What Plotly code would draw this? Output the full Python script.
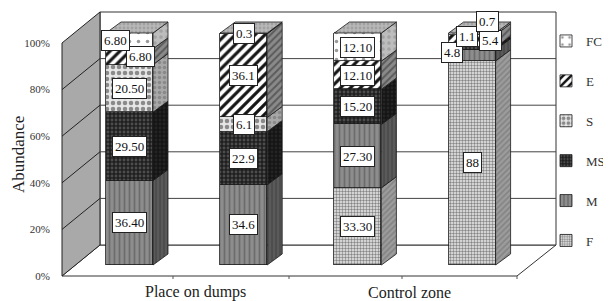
import plotly.graph_objects as go

# ---------------- data ----------------
categories = ["Place on dumps", "Control zone"]
bar_category = [0, 0, 1, 1]
series_names = ["F", "M", "MS", "S", "E", "FC"]
F = [0, 0, 33.30, 88]
M = [36.40, 34.6, 27.30, 4.8]
MS = [29.50, 22.9, 15.20, 1.1]
S = [20.50, 6.1, 0, 0]
E = [6.80, 36.1, 12.10, 5.4]
FC = [6.80, 0.3, 12.10, 0.7]
label_F = ["", "", "33.30", "88"]
label_M = ["36.40", "34.6", "27.30", "4.8"]
label_MS = ["29.50", "22.9", "15.20", "1.1"]
label_S = ["20.50", "6.1", "", ""]
label_E = ["6.80", "36.1", "12.10", "5.4"]
label_FC = ["6.80", "0.3", "12.10", "0.7"]
y_tickvals = [0, 20, 40, 60, 80, 100]
y_ticktext = ["0%", "20%", "40%", "60%", "80%", "100%"]
y_title = "Abundance"

values = [F, M, MS, S, E, FC]
labels = [label_F, label_M, label_MS, label_S, label_E, label_FC]
bar_x = list(range(len(F)))

# ---------------- styles ----------------
SERIF = "Liberation Serif"
front_style = {
    "F":  dict(bg="#eeeeee", fg="#858585", shape=".", size=3, sol=0.5),
    "M":  dict(bg="#8d8d8d", fg="#6c6c6c", shape="|", size=5, sol=0.35),
    "MS": dict(bg="#1f1f1f", fg="#4d4d4d", shape=".", size=4, sol=0.4),
    "S":  dict(bg="#e6e6e6", fg="#8a8a8a", shape=".", size=6, sol=0.45),
    "E":  dict(bg="#ffffff", fg="#151515", shape="/", size=7, sol=0.45),
    "FC": dict(bg="#ffffff", fg="#9a9a9a", shape=".", size=9, sol=0.12),
}
side_style = {
    "F":  dict(bg="#9c9c9c", fg="#6a6a6a", shape="/", size=4, sol=0.4),
    "M":  dict(bg="#5a5a5a", fg="#3a3a3a", shape="|", size=4, sol=0.4),
    "MS": dict(bg="#141414", fg="#333333", shape=".", size=4, sol=0.4),
    "S":  dict(bg="#a8a8a8", fg="#6a6a6a", shape=".", size=5, sol=0.4),
    "E":  dict(bg="#8a8a8a", fg="#2a2a2a", shape="/", size=5, sol=0.4),
    "FC": dict(bg="#bdbdbd", fg="#8a8a8a", shape=".", size=6, sol=0.3),
}
# label pixel shifts (bar index, series) -> (xshift, yshift)
label_shift = {
    (0, "E"): (11, 0), (0, "FC"): (-14, 0),
    (3, "M"): (-20, 3), (3, "MS"): (-5, 12), (3, "E"): (18, 0), (3, "FC"): (15, 12),
}
cat_label_xshift = [9, -6]

# ---------------- geometry (screen pixels of the reference) ----------------
W, H = 611, 301
OFF = 8  # default page body margin
L, R, T, B = 62, 556, 10, 280
bar0_px, bar_step_px = 129.5, 114.2
bar_zero_px, bar_ppu = 265.0, 2.32
tick_zero_px, tick_ppu = 276.0, 2.33
wall_zero_px = 245.0
depth_px_x, depth_px_y = 15.0, 11.0
bar_w = 47.0 / bar_step_px

x_range = [(L - bar0_px) / bar_step_px, (R - bar0_px) / bar_step_px]
y_range = [-(B - bar_zero_px) / bar_ppu, (bar_zero_px - T) / bar_ppu]
y2_range = [-(B - tick_zero_px) / tick_ppu, (tick_zero_px - T) / tick_ppu]
dx = depth_px_x / bar_step_px
dy = depth_px_y / bar_ppu


def xp(px):
    return (px - L) / (R - L)


def yp(py):
    return (B - py) / (B - T)


def path(points):
    return "M " + " L ".join(f"{xp(a):.5f},{yp(b):.5f}" for a, b in points) + " Z"


fig = go.Figure()

# side and top faces (computed from data)
for i in bar_x:
    xr = i + bar_w / 2
    xl = i - bar_w / 2
    cum = 0.0
    for name, vals in zip(series_names, values):
        v = vals[i]
        if v <= 0:
            continue
        y0, y1 = cum, cum + v
        cum = y1
        st = side_style[name]
        fig.add_trace(go.Scatter(
            x=[xr, xr + dx, xr + dx, xr, xr],
            y=[y0, y0 + dy, y1 + dy, y1, y0],
            mode="lines", fill="toself", fillcolor=st["bg"],
            fillpattern=dict(shape=st["shape"], fgcolor=st["fg"], bgcolor=st["bg"],
                             size=st["size"], solidity=st["sol"]),
            line=dict(color="#1a1a1a", width=0.8),
            showlegend=False, hoverinfo="skip"))
    fig.add_trace(go.Scatter(
        x=[xl, xl + dx, xr + dx, xr, xl],
        y=[cum, cum + dy, cum + dy, cum, cum],
        mode="lines", fill="toself", fillcolor="#b4b4b4",
        fillpattern=dict(shape=".", fgcolor="#8a8a8a", bgcolor="#b8b8b8", size=4, solidity=0.4),
        line=dict(color="#1a1a1a", width=0.8),
        showlegend=False, hoverinfo="skip"))

# front faces
n_series = len(series_names)
for k, (name, vals) in enumerate(zip(series_names, values)):
    st = front_style[name]
    fig.add_trace(go.Bar(
        x=bar_x, y=vals, name=name, width=bar_w, legendgroup=name,
        legendrank=100 + (n_series - k),
        marker=dict(color=st["bg"], line=dict(color="#1a1a1a", width=0.8),
                    pattern=dict(shape=st["shape"], fgcolor=st["fg"], bgcolor=st["bg"],
                                 size=st["size"], solidity=st["sol"], fillmode="replace")),
        hoverinfo="skip"))

# invisible trace to activate yaxis2
fig.add_trace(go.Scatter(x=[0], y=[0], yaxis="y2", mode="markers",
                         marker=dict(opacity=0), showlegend=False, hoverinfo="skip"))

# data labels
annotations = []
for i in bar_x:
    cum = 0.0
    for name, vals, labs in zip(series_names, values, labels):
        v = vals[i]
        if v <= 0:
            continue
        mid = cum + v / 2
        cum += v
        xs, ys = label_shift.get((i, name), (0, 0))
        annotations.append(dict(
            x=i, y=mid, xref="x", yref="y", text=labs[i], showarrow=False,
            xshift=xs, yshift=ys, bgcolor="white", bordercolor="#222", borderwidth=1,
            borderpad=2, font=dict(family=SERIF, size=13, color="#111")))

# category labels
for c, cat in enumerate(categories):
    xs_ = [bar_x[k] for k in bar_x if bar_category[k] == c]
    annotations.append(dict(
        x=sum(xs_) / len(xs_), y=yp(292), xref="x", yref="paper", text=cat,
        showarrow=False, xshift=cat_label_xshift[c], xanchor="center", yanchor="middle",
        font=dict(family=SERIF, size=16, color="#222")))

annotations.append(dict(
    x=xp(19), y=yp(155), xref="paper", yref="paper", text=y_title, textangle=-90,
    showarrow=False, xanchor="center", yanchor="middle",
    font=dict(family=SERIF, size=17, color="#222")))

# walls, floor, gridlines (decoration)
shapes = []
wall_ppu = tick_ppu
shapes.append(dict(type="path", xref="paper", yref="paper", layer="below",
                   path=path([(62, 276), (517, 276), (556, wall_zero_px), (100, wall_zero_px)]),
                   fillcolor="white", line=dict(color="#333", width=1)))
shapes.append(dict(type="path", xref="paper", yref="paper", layer="below",
                   path=path([(100, wall_zero_px - 100 * wall_ppu), (556, wall_zero_px - 100 * wall_ppu),
                              (556, wall_zero_px), (100, wall_zero_px)]),
                   fillcolor="white", line=dict(color="#333", width=1)))
shapes.append(dict(type="path", xref="paper", yref="paper", layer="below",
                   path=path([(62, tick_zero_px), (62, tick_zero_px - 100 * tick_ppu),
                              (100, wall_zero_px - 100 * wall_ppu), (100, wall_zero_px)]),
                   fillcolor="#a9a9a9", line=dict(color="#222", width=1)))
for t in y_tickvals[1:-1]:
    yb = wall_zero_px - t * wall_ppu
    yf = tick_zero_px - t * tick_ppu
    shapes.append(dict(type="line", xref="paper", yref="paper", layer="below",
                       x0=xp(100), y0=yp(yb), x1=xp(556), y1=yp(yb),
                       line=dict(color="#444", width=1)))
    shapes.append(dict(type="line", xref="paper", yref="paper", layer="below",
                       x0=xp(62), y0=yp(yf), x1=xp(100), y1=yp(yb),
                       line=dict(color="#222", width=1)))
for tx in [173, 289, 402, 517]:
    shapes.append(dict(type="line", xref="paper", yref="paper", layer="below",
                       x0=xp(tx), y0=yp(276), x1=xp(tx), y1=yp(279),
                       line=dict(color="#555", width=1)))

fig.update_layout(
    width=W, height=H,
    margin=dict(l=L - OFF, r=W - (R - OFF), t=T - OFF, b=H - (B - OFF), pad=0, autoexpand=False),
    paper_bgcolor="white", plot_bgcolor="rgba(0,0,0,0)",
    barmode="stack", bargap=0,
    xaxis=dict(range=x_range, visible=False, fixedrange=True),
    yaxis=dict(range=y_range, visible=False, fixedrange=True),
    yaxis2=dict(range=y2_range, overlaying="y", side="left", anchor="x",
                tickvals=y_tickvals, ticktext=y_ticktext, showgrid=False, zeroline=False,
                showline=False, ticks="outside", ticklen=9, tickcolor="rgba(0,0,0,0)",
                tickfont=dict(family=SERIF, size=11, color="#333"), fixedrange=True),
    legend=dict(x=xp(546), y=yp(26), xanchor="left", yanchor="top",
                traceorder="grouped", tracegroupgap=20, itemwidth=30,
                font=dict(family=SERIF, size=13, color="#333"), bgcolor="rgba(0,0,0,0)"),
    annotations=annotations, shapes=shapes, showlegend=True,
)

fig.write_html("out.html")
